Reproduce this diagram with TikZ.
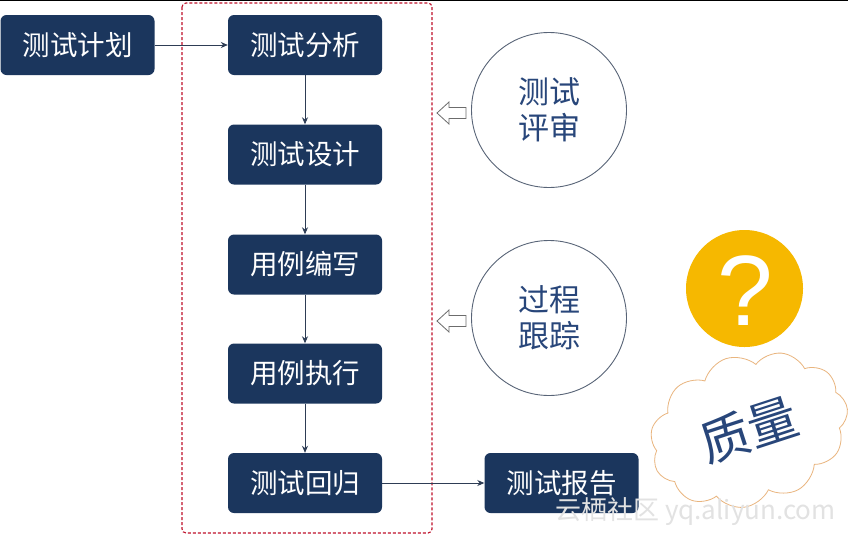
\documentclass[tikz,border=0pt]{standalone}
\usepackage{fontspec}
\setmainfont{Noto Sans CJK SC}
\newfontfamily\cjk{Noto Sans CJK SC}
\newfontfamily\qfont{Liberation Sans}
\usetikzlibrary{shapes.symbols,arrows.meta}
\definecolor{navy}{HTML}{1B365D}
\definecolor{txtblue}{HTML}{28467A}
\definecolor{lineg}{HTML}{2E3D55}
\definecolor{cloudc}{HTML}{E9B57E}
\definecolor{qyellow}{HTML}{F6B800}
\definecolor{dashred}{HTML}{C0102A}
\definecolor{wm}{HTML}{E2E2E2}
\tikzset{
  stepbox/.style={draw=none,fill=navy,rounded corners=6pt,minimum width=154pt,minimum height=60pt,text=white,font=\cjk\fontsize{27.5}{27.5}\selectfont,inner sep=0pt},
  flow/.style={draw=lineg,line width=0.9pt,-{Stealth[length=7pt,width=6pt]}},
  bubble/.style={circle,draw=lineg!80,line width=0.9pt,minimum size=155pt,inner sep=0pt,text=txtblue,font=\cjk\fontsize{31}{36}\selectfont,align=center},
  hollowarrow/.style={draw=gray!85!black,line width=0.8pt,fill=white,line join=miter}
}
\newcommand{\hollowleft}[1]{%
  \draw[hollowarrow] ([shift={(-14.5,0)}]#1) -- ([shift={(-2.5,-11)}]#1) -- ([shift={(-2.5,-5.5)}]#1) -- ([shift={(14.5,-5.5)}]#1) -- ([shift={(14.5,5.5)}]#1) -- ([shift={(-2.5,5.5)}]#1) -- ([shift={(-2.5,11)}]#1) -- cycle;}
\begin{document}
\begin{tikzpicture}[x=1pt,y=-1pt]
\useasboundingbox (0,0) rectangle (848,536);
\fill[white] (0,0) rectangle (848,536);
\draw[black,line width=1.2pt] (0,0.6) -- (848,0.6);
% dashed container
\draw[dashred,line width=1.1pt,dash pattern=on 3pt off 2pt,rounded corners=4pt] (182,3) rectangle (432,533);
% boxes
\node[stepbox] (plan) at (77.5,45) {测试计划};
\node[stepbox] (ana) at (305,45) {测试分析};
\node[stepbox] (des) at (305,154.5) {测试设计};
\node[stepbox] (wri) at (305,264.5) {用例编写};
\node[stepbox] (exe) at (305,373.5) {用例执行};
\node[stepbox] (reg) at (305,483) {测试回归};
\node[stepbox] (rep) at (561.5,483) {测试报告};
\draw[flow] (plan) -- (ana);
\draw[flow] (ana) -- (des);
\draw[flow] (des) -- (wri);
\draw[flow] (wri) -- (exe);
\draw[flow] (exe) -- (reg);
\draw[flow] (reg) -- (rep);
% circles
\node[bubble] (rev) at (549,110) {测试\\评审};
\node[bubble] (trk) at (549,318) {过程\\跟踪};
\coordinate (a1) at (451.5,113);
\coordinate (a2) at (451.5,321);
\hollowleft{a1}
\hollowleft{a2}
% question mark
\node[circle,fill=qyellow,minimum size=117pt,inner sep=0pt] (q) at (744.5,288.5) {};
\node[text=white,font=\qfont\fontsize{100}{100}\selectfont,inner sep=0pt] (qm) at (745,291) {?};
% cloud
\node[cloud,cloud puffs=11,cloud puff arc=115,aspect=1.3,draw=cloudc,line width=0.8pt,fill=white,minimum width=202pt,minimum height=150pt,rotate=18,inner sep=0pt,text=txtblue,font=\cjk\fontsize{50}{50}\selectfont] (cl) at (749,430) {\raisebox{-3pt}{质量}};
% watermark
\node[text=wm,font=\cjk\fontsize{26}{26}\selectfont,anchor=west,inner sep=0pt] (wmk) at (555,512) {云栖社区 yq.aliyun.com};
\end{tikzpicture}
\end{document}
